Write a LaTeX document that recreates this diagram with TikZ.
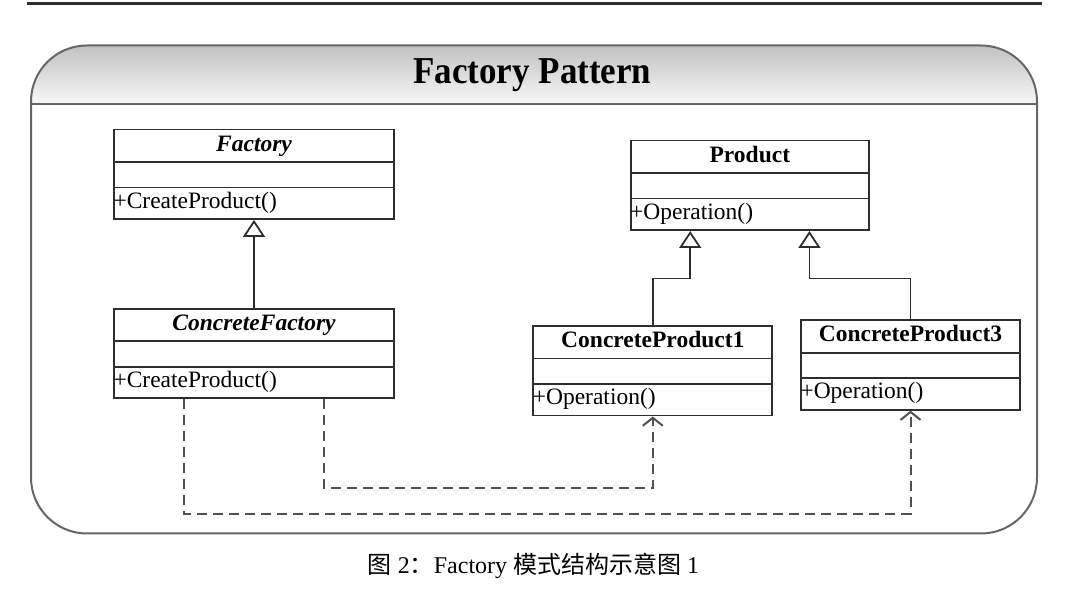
\documentclass[tikz,border=0pt]{standalone}
\usepackage{fontspec}
\setmainfont{Liberation Serif}
\newfontfamily\cjk{Noto Sans CJK SC}
\usetikzlibrary{arrows.meta}
\definecolor{ink}{HTML}{2E2E2E}
\definecolor{framegray}{HTML}{666666}
\definecolor{dashgray}{HTML}{505050}
\def\clsfont{\fontsize{11.75}{14}\selectfont}

\tikzset{
  cls/.style={draw=ink,line width=0.9pt,inner sep=0pt,minimum height=44.75pt,
    path picture={
      \draw[ink,line width=0.9pt]
        ([yshift=-16.25pt]path picture bounding box.north west) -- ([yshift=-16.25pt]path picture bounding box.north east)
        ([yshift=-29pt]path picture bounding box.north west) -- ([yshift=-29pt]path picture bounding box.north east);
    }},
  clsname/.style={anchor=base,inner sep=0pt,font=\clsfont\bfseries},
  clsop/.style={anchor=base west,inner sep=0pt,font=\clsfont},
  inh/.style={draw=ink,line width=0.9pt,-{Triangle[open,length=8.5pt,width=11pt]}},
  dep/.style={draw=dashgray,line width=1pt,dash pattern=on 5pt off 3pt,
    -{Straight Barb[length=4pt,width=10pt]}},
}

\begin{document}
\begin{tikzpicture}[x=0.5pt,y=-0.5pt]
  \useasboundingbox (0,0) rectangle (1083,593);
  % page rule and frame
  \draw[ink,line width=1.2pt] (27,3.5) -- (1042,3.5);
  \begin{scope}
    \clip[rounded corners=28pt] (31,45.5) rectangle (1037,533.5);
    \shade[top color=gray!48,bottom color=gray!6] (31,45.5) rectangle (1037,104);
  \end{scope}
  \draw[framegray,line width=1pt] (31,104) -- (1037,104);
  \draw[framegray,line width=1pt,rounded corners=28pt] (31,45.5) rectangle (1037,533.5);
  \node[anchor=base,inner sep=0pt,xscale=0.92,font=\fontsize{19}{22}\selectfont\bfseries] (title) at (532.4,83.3) {Factory Pattern};

  % factories
  \node[cls,minimum width=140pt] (fac) at (254,174.25) {};
  \node[clsname] (facname) at ([yshift=-11.25pt]fac.north) {\itshape Factory};
  \node[clsop] (facop) at ([yshift=-39.75pt]fac.north west) {+CreateProduct()};

  \node[cls,minimum width=140pt] (cfac) at (254,353.5) {};
  \node[clsname] (cfacname) at ([yshift=-11.25pt]cfac.north) {\itshape ConcreteFactory};
  \node[clsop] (cfacop) at ([yshift=-39.75pt]cfac.north west) {+CreateProduct()};

  % products
  \node[cls,minimum width=119.15pt] (prod) at (749.85,185.35) {};
  \node[clsname] (prodname) at ([yshift=-11.25pt]prod.north) {Product};
  \node[clsop] (prodop) at ([yshift=-39.75pt]prod.north west) {+Operation()};

  \node[cls,minimum width=119.5pt] (cp1) at (652.8,370.85) {};
  \node[clsname] (cp1name) at ([yshift=-11.25pt]cp1.north) {ConcreteProduct1};
  \node[clsop] (cp1op) at ([yshift=-39.75pt]cp1.north west) {+Operation()};

  \node[cls,minimum width=109.5pt] (cp3) at (910.5,365) {};
  \node[clsname] (cp3name) at ([yshift=-11.25pt]cp3.north) {ConcreteProduct3};
  \node[clsop] (cp3op) at ([yshift=-39.75pt]cp3.north west) {+Operation()};

  % inheritance
  \coordinate (bend) at (0,278.5);
  \draw[inh] (cfac.north) -- (fac.south);
  \draw[inh] (cp1.north) -- (cp1.north |- bend) -| ([xshift=-29.8pt]prod.south);
  \draw[inh] (cp3.north) -- (cp3.north |- bend) -| ([xshift=29.8pt]prod.south);

  % creates
  \coordinate (inner) at (0,488);
  \coordinate (outer) at (0,514);
  \draw[dep] ([xshift=35pt]cfac.south) |- (inner -| cp1.south) -- (cp1.south);
  \draw[dep] ([xshift=-35pt]cfac.south) |- (outer -| cp3.south) -- (cp3.south);

  \node[anchor=base,inner sep=0pt,font=\fontsize{12}{14}\selectfont] (caption) at (533.5,574)
    {{\cjk 图} 2{\cjk ：}Factory {\cjk 模式结构示意图} 1};
\end{tikzpicture}
\end{document}
